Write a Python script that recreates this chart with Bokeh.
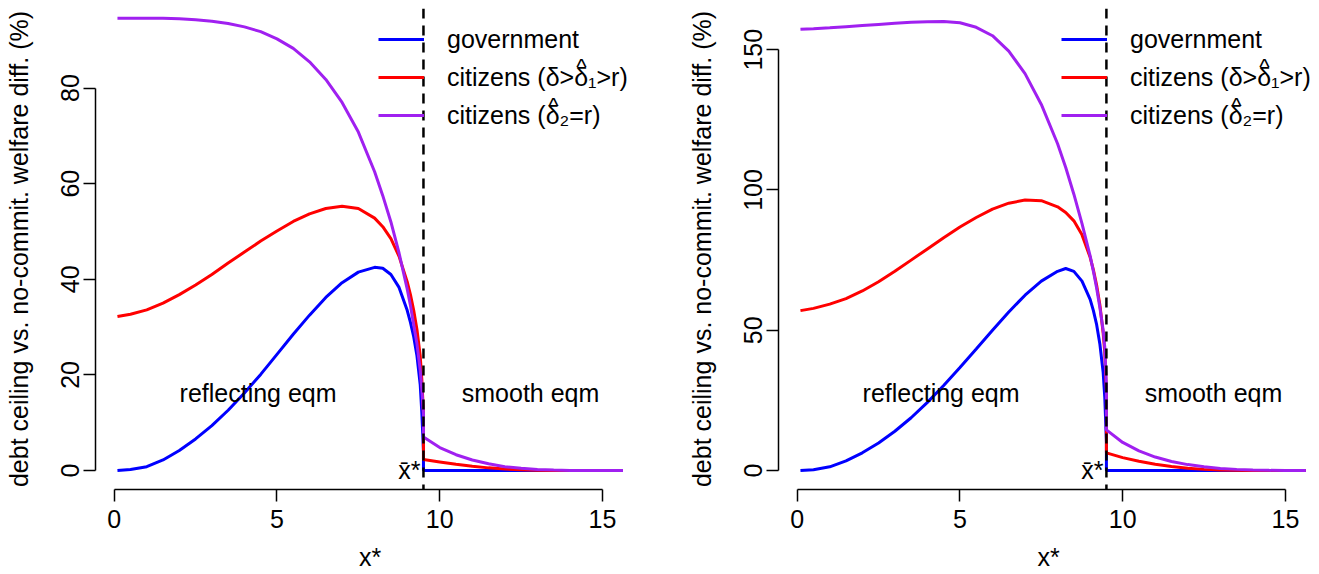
from bokeh.plotting import figure
from bokeh.models import FixedTicker, Span, Legend, LegendItem, Range1d
from bokeh.layouts import row
from bokeh.embed import file_html
from bokeh.resources import INLINE
from bokeh.core.properties import value

# ---------------- data ----------------
x = [0.1, 0.5, 1.0, 1.5, 2.0, 2.5, 3.0, 3.5, 4.0, 4.5, 5.0, 5.5, 6.0, 6.5, 7.0, 7.5,
     8.0, 8.25, 8.5, 8.75, 9.0, 9.1, 9.2, 9.3, 9.4, 9.45, 9.5, 9.5,
     10.0, 10.5, 11.0, 11.5, 12.0, 12.5, 13.0, 13.5, 14.0, 14.5, 15.0, 15.63]

gov_left = [0, 0.2, 0.8, 2.2, 4.2, 6.6, 9.4, 12.6, 16.2, 20.1, 24.3, 28.5, 32.5, 36.2, 39.3, 41.5,
            42.5, 42.3, 41.0, 38.3, 33.5, 31.0, 28.0, 24.0, 18.0, 12.0, 4.0, 0,
            0, 0, 0, 0, 0, 0, 0, 0, 0, 0, 0, 0]
cit1_left = [32.2, 32.7, 33.6, 35.0, 36.8, 38.8, 41.0, 43.4, 45.7, 48.0, 50.1, 52.1, 53.7, 54.8, 55.3, 54.8,
             52.8, 51.0, 48.5, 44.8, 39.5, 36.8, 33.5, 29.5, 24.0, 19.0, 12.0, 2.3,
             1.8, 1.3, 0.9, 0.55, 0.3, 0.15, 0.05, 0, 0, 0, 0, 0]
cit2_left = [94.6, 94.6, 94.6, 94.6, 94.5, 94.3, 94.0, 93.5, 92.8, 91.8, 90.3, 88.3, 85.5, 81.8, 77.0, 70.8,
             62.5, 57.5, 52.0, 45.5, 38.0, 34.5, 30.5, 26.5, 21.0, 17.0, 12.0, 7.0,
             4.8, 3.3, 2.2, 1.4, 0.8, 0.45, 0.2, 0.08, 0.02, 0, 0, 0]

gov_right = [0, 0.3, 1.3, 3.4, 6.3, 9.8, 14.0, 18.8, 24.3, 30.3, 36.7, 43.3, 50.0, 56.5, 62.5, 67.5,
             71.0, 72.0, 71.0, 67.5, 61.0, 57.0, 52.0, 45.0, 35.0, 26.0, 10.0, 0,
             0, 0, 0, 0, 0, 0, 0, 0, 0, 0, 0, 0]
cit1_right = [57.0, 57.8, 59.3, 61.3, 64.0, 67.3, 71.0, 75.0, 79.0, 83.0, 86.8, 90.2, 93.2, 95.3, 96.4, 96.2,
              94.0, 92.0, 89.0, 84.0, 76.0, 71.5, 66.0, 59.0, 49.0, 42.0, 28.0, 6.3,
              4.6, 3.3, 2.2, 1.4, 0.8, 0.4, 0.15, 0.05, 0, 0, 0, 0]
cit2_right = [157.3, 157.5, 157.8, 158.2, 158.6, 159.0, 159.4, 159.8, 160.0, 160.1, 159.6, 158.0, 155.0, 149.5, 141.5, 130.5,
              116.5, 108.0, 98.5, 88.0, 76.5, 71.0, 65.0, 58.0, 50.0, 44.0, 30.0, 14.5,
              10.0, 7.0, 4.8, 3.2, 2.1, 1.3, 0.75, 0.4, 0.15, 0.05, 0, 0]

xbar = 9.5
x_ticks = [0, 5, 10, 15]
y_ticks_left = [0, 20, 40, 60, 80]
y_ticks_right = [0, 50, 100, 150]

series_labels = ["government", "citizens (δ>δ\u2081>r)", "citizens (δ\u2082=r)"]
hat_text = "^"
region_labels = ["reflecting eqm", "smooth eqm"]
xbar_label = "x\u0304*"
x_label = "x*"
y_label = "debt ceiling vs. no-commit. welfare diff. (%)"

# label positions (data coords)
region_x = [4.42, 12.79]
region_y_left = 16.3
region_y_right = 27.8

# ---------------- style ----------------
FONT = "Liberation Sans"
FS = "25px"
COLORS = ["#0000FF", "#FF0000", "#A020F0"]
FRAME_H = 481
# hats above delta in legend rows 2 and 3: (x offset, y offset) from frame top-left, px
HAT_OFFSETS = [(486, 58), (458, 97)]


def panel(gov, cit1, cit2, yticks, xr, yr, frame_w, bl, br, region_y):
    p = figure(x_range=Range1d(*xr), y_range=Range1d(*yr),
               frame_width=frame_w, frame_height=FRAME_H,
               min_border_left=bl, min_border_right=br,
               min_border_top=8, min_border_bottom=80,
               output_backend="svg", toolbar_location=None)
    p.outline_line_color = None
    p.xgrid.visible = False
    p.ygrid.visible = False
    p.background_fill_color = "white"
    p.border_fill_color = "white"

    for ax in (p.xaxis[0], p.yaxis[0]):
        ax.major_tick_out = 12
        ax.major_tick_in = 0
        ax.minor_tick_line_color = None
        ax.axis_line_color = "black"
        ax.axis_line_width = 1.5
        ax.major_tick_line_color = "black"
        ax.major_tick_line_width = 1.5
        ax.major_label_text_font = FONT
        ax.major_label_text_font_size = FS
        ax.major_label_text_color = "black"
        ax.axis_label_text_font = FONT
        ax.axis_label_text_font_size = FS
        ax.axis_label_text_font_style = "normal"
        ax.axis_label_text_color = "black"

    p.xaxis.ticker = FixedTicker(ticks=x_ticks)
    p.xaxis.bounds = (x_ticks[0], x_ticks[-1])
    p.xaxis.axis_label = x_label
    p.xaxis.major_label_standoff = 8
    p.xaxis.axis_label_standoff = 12

    p.yaxis.ticker = FixedTicker(ticks=yticks)
    p.yaxis.bounds = (yticks[0], yticks[-1])
    p.yaxis.axis_label = y_label
    p.yaxis.major_label_orientation = "vertical"
    p.yaxis.major_label_standoff = 4
    p.yaxis.axis_label_standoff = 26

    rs = []
    for ys, c in zip((gov, cit1, cit2), COLORS):
        rs.append(p.line(x, ys, line_color=c, line_width=3))

    p.add_layout(Span(location=xbar, dimension="height", line_color="black",
                      line_dash="10 7", line_width=2.5))

    p.text(x=region_x, y=[region_y, region_y], text=region_labels,
           text_align="center", text_baseline="middle",
           text_font=value(FONT), text_font_size=FS, text_color="black")
    p.text(x=[xbar], y=[0], text=[xbar_label], x_offset=-3,
           text_align="right", text_baseline="middle",
           text_font=value(FONT), text_font_size=FS, text_color="black")

    legend = Legend(items=[LegendItem(label=l, renderers=[r]) for l, r in zip(series_labels, rs)],
                    location=(283, 355), padding=0, spacing=0, margin=0,
                    glyph_width=46, glyph_height=38, label_height=38, label_standoff=23,
                    label_text_font=FONT, label_text_font_size=FS, label_text_color="black",
                    background_fill_alpha=0, border_line_alpha=0)
    p.add_layout(legend)

    # circumflex accents over the delta of legend rows 2 and 3
    for dx, dy in HAT_OFFSETS:
        p.text(x=[xr[0]], y=[yr[1]], text=[hat_text], x_offset=dx, y_offset=dy,
               text_align="center", text_baseline="alphabetic",
               text_font=value(FONT), text_font_size="22px", text_color="black")
    return p


left = panel(gov_left, cit1_left, cit2_left, y_ticks_left,
             (-0.5745, 16.29), (-3.975, 96.65), 549, 95, 40, region_y_left)
right = panel(gov_right, cit1_right, cit2_right, y_ticks_right,
              (-0.5745, 16.016), (-6.774, 164.7), 540, 88, 0, region_y_right)

layout = row(left, right)
open("out.html", "w").write(file_html(layout, INLINE))
